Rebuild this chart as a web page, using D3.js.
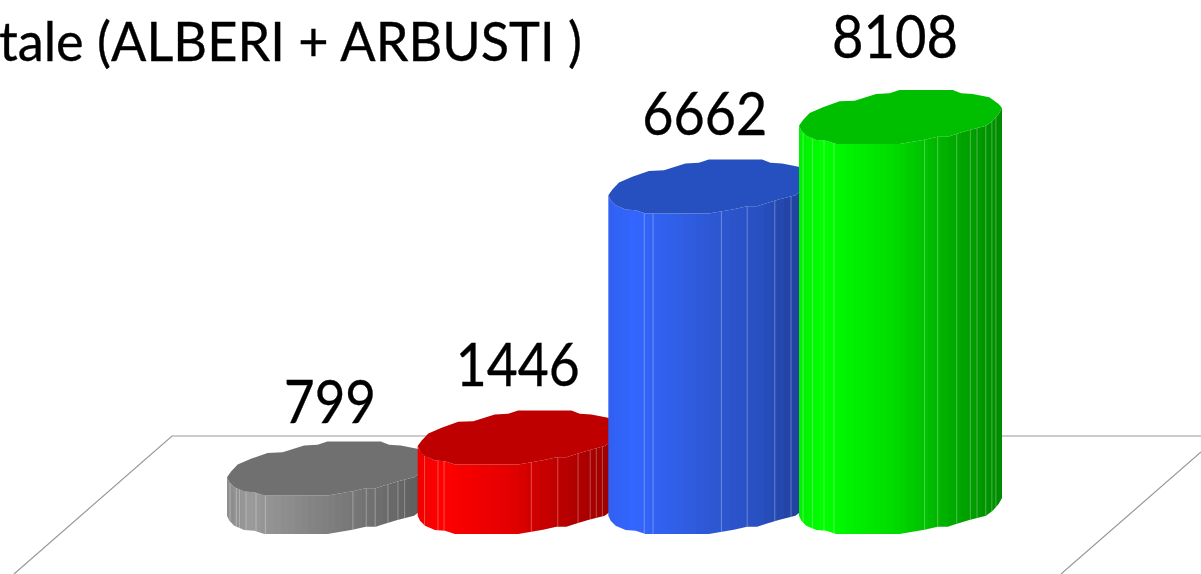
<!DOCTYPE html>
<html>
<head>
<meta charset="utf-8">
<script src="https://cdn.jsdelivr.net/npm/d3@7"></script>
<style>
  html, body { margin: 0; background: #fff; overflow: hidden; }
  svg { display: block; }
  text { font-family: Lato, "Open Sans", sans-serif; fill: #000; stroke: #000; stroke-width: .35; }
</style>
</head>
<body>
<svg id="chart" width="1201" height="574"></svg>
<script>
const titleText = "tale (ALBERI + ARBUSTI )";
const categories = ["grigio", "rosso", "blu", "verde"];
const values = [799, 1446, 6662, 8108];

const faceColors = ["#707070", "#bf0000", "#2650c0", "#00bf00"];
const rampStops = [0, .12, .45, .75, 1];
const wallColors = [
  ["#8c8c8c", "#9a9a9a", "#828282", "#6e6e6e", "#5a5a5a"],
  ["#f00000", "#ff0000", "#e40000", "#b40000", "#960000"],
  ["#3060f0", "#3366ff", "#2e5ada", "#2850c0", "#1d3c92"],
  ["#00f000", "#00ff00", "#00de00", "#00ab00", "#008a00"]
];

// bumpy cap outline, in units of the bar's half width / half depth
const capOutline = [
  [-1, .32], [-.96, .11], [-.895, -.15], [-.764, -.36], [-.6, -.58], [-.452, -.6],
  [-.24, -.85], [-.108, -.88], [-.01, -1], [.515, -1], [.597, -.88], [.711, -.85],
  [.875, -.73], [.967, -.48], [1, -.33], [.967, -.11], [.908, .14], [.843, .32],
  [.679, .48], [.548, .63], [.466, .73], [.367, .73], [.236, .84], [-.01, 1],
  [-.633, 1], [-.731, .88], [-.83, .85], [-.928, .69], [-.977, .51]
];
// thin light lines between wall facets, as fraction of the width
const seams = [
  [.015, .046, .062, .094, .143, .189, .62, .686, .73, .793, .842, .875],
  [.034, .1, .13, .56, .69, .79, .85, .88, .91],
  [.177, .22, .557, .684, .82, .9],
  [.02, .066, .123, .172, .618, .683, .777, .844, .877, .92, .95, .97]
];

const svg = d3.select("#chart");
const defs = svg.append("defs");

const halfWidth = 101.5, halfDepth = 27;
const x = d3.scalePoint().domain(categories).range([328.5, 900.5]);
const y = d3.scaleLinear().domain([0, 8108]).range([507, 117]);

// floor of the 3d plot
svg.append("path")
  .attr("d", "M14,574 L172,436 H1201 M1201,452 L1061,574")
  .attr("fill", "none")
  .attr("stroke", "#999")
  .attr("stroke-width", 1.2);

// lower half of the cap, left to right: gives the shape of the wall
const lower = [capOutline[0]].concat(capOutline.slice(14).reverse());
const line = d3.line();

categories.forEach((cat, i) => {
  const cx = x(cat);
  const px = d3.scaleLinear().domain([-1, 1]).range([cx - halfWidth, cx + halfWidth]);
  const py = (v, cy) => cy + v * halfDepth;
  const topY = y(values[i]), baseY = y(0);

  // stepped gradient, so the wall shows its facets
  const ramp = d3.scaleLinear().domain(rampStops).range(wallColors[i]);
  const steps = 30;
  const grad = defs.append("linearGradient").attr("id", "wall" + i);
  d3.range(steps).forEach(s => {
    const c = ramp((s + .5) / steps);
    grad.append("stop").attr("offset", s / steps).attr("stop-color", c);
    grad.append("stop").attr("offset", (s + 1) / steps).attr("stop-color", c);
  });

  const g = svg.append("g").attr("class", "bar");

  const wall = lower.map(p => [px(p[0]), py(p[1], topY)])
    .concat(lower.slice().reverse().map(p => [px(p[0]), py(p[1], baseY)]));
  g.append("path").attr("d", line(wall) + "Z").attr("fill", `url(#wall${i})`);

  const edge = d3.scaleLinear().domain(lower.map(p => p[0])).range(lower.map(p => p[1]));
  seams[i].forEach(t => {
    const u = t * 2 - 1;
    g.append("line")
      .attr("x1", px(u)).attr("x2", px(u))
      .attr("y1", py(edge(u), topY)).attr("y2", py(edge(u), baseY))
      .attr("stroke", "#fff").attr("stroke-opacity", .3).attr("stroke-width", 1);
  });

  g.append("path")
    .attr("d", line(capOutline.map(p => [px(p[0]), py(p[1], topY)])) + "Z")
    .attr("fill", faceColors[i]);
});

// value labels sit a bit unevenly in the original
const labelDx = [1.5, -1.5, -5, -5.5];
const labelDy = [46, 51, 52, 59];
const labelW = [92, 124, 125, 126];
svg.selectAll("text.value")
  .data(values)
  .enter().append("text")
    .attr("class", "value")
    .attr("x", (d, i) => x(categories[i]) + labelDx[i])
    .attr("y", (d, i) => y(d) - labelDy[i])
    .attr("text-anchor", "middle")
    .attr("font-size", 60)
    .attr("textLength", (d, i) => labelW[i])
    .attr("lengthAdjust", "spacingAndGlyphs")
    .text(d => d);

svg.append("text")
  .attr("x", -1)
  .attr("y", 61)
  .attr("font-size", 54)
  .attr("textLength", 583)
  .attr("lengthAdjust", "spacingAndGlyphs")
  .text(titleText);
</script>
</body>
</html>
